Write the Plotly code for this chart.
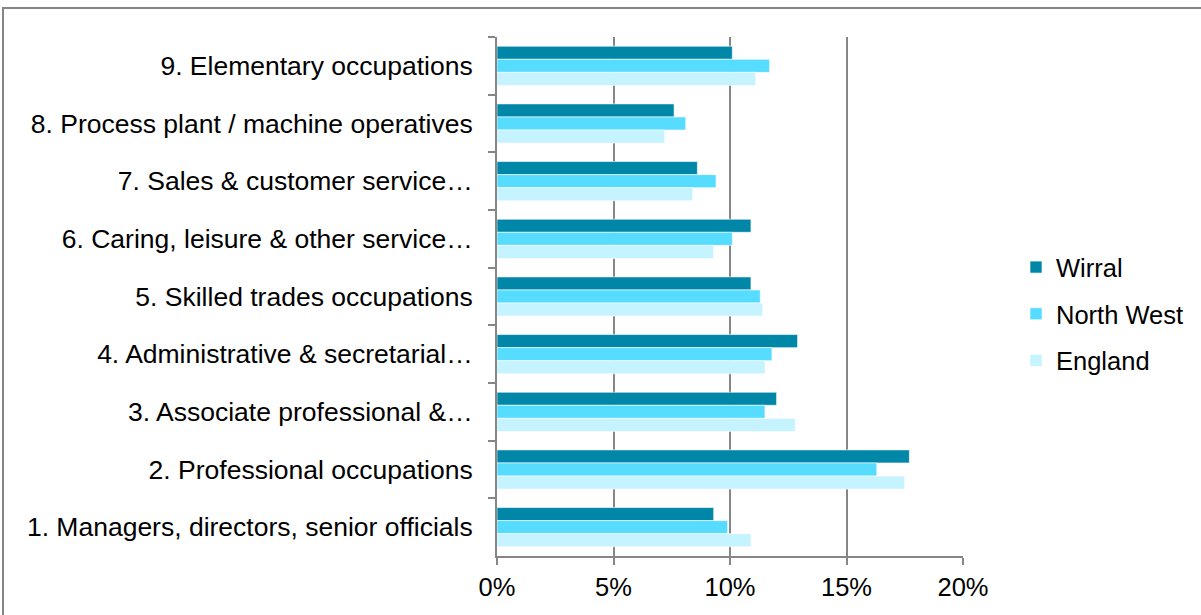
import plotly.graph_objects as go

# Occupation categories, listed top to bottom as drawn
categories = [
    "9. Elementary occupations",
    "8. Process plant / machine operatives",
    "7. Sales & customer service\u2026",
    "6. Caring, leisure & other service\u2026",
    "5. Skilled trades occupations",
    "4. Administrative & secretarial\u2026",
    "3. Associate professional &\u2026",
    "2. Professional occupations",
    "1. Managers, directors, senior officials",
]

# Share of employment (%) per area, same order as categories
wirral = [10.1, 7.6, 8.6, 10.9, 10.9, 12.9, 12.0, 17.7, 9.3]
north_west = [11.7, 8.1, 9.4, 10.1, 11.3, 11.8, 11.5, 16.3, 9.9]
england = [11.1, 7.2, 8.4, 9.3, 11.4, 11.5, 12.8, 17.5, 10.9]

x_ticks = [0, 5, 10, 15, 20]
x_tick_labels = ["0%", "5%", "10%", "15%", "20%"]

series = [
    ("Wirral", wirral, "#0087A8"),
    ("North West", north_west, "#55DCFF"),
    ("England", england, "#C5F3FF"),
]

FONT = "Liberation Sans, Arial, sans-serif"
GREY = "#868686"

fig = go.Figure()
for name, values, color in series:
    fig.add_trace(go.Bar(
        y=categories,
        x=values,
        name=name,
        orientation="h",
        legendgroup=name,
        marker=dict(color=color, line=dict(color="rgba(255,255,255,0.6)", width=1)),
        hoverinfo="x+y+name",
    ))

L, R, T, B = 497, 238, 37, 59
W, H = 1201, 615
pw = W - L - R
ph = H - T - B

fig.update_layout(
    width=W,
    height=H,
    margin=dict(l=L, r=R, t=T, b=B, pad=0, autoexpand=False),
    paper_bgcolor="white",
    plot_bgcolor="white",
    barmode="group",
    bargap=0.32,
    bargroupgap=0,
    font=dict(family=FONT, size=26, color="#000000"),
    showlegend=True,
    legend=dict(
        x=(1016 - L) / pw,
        xanchor="left",
        y=(H - B - 314) / ph,
        yanchor="middle",
        traceorder="grouped",
        tracegroupgap=10.5,
        font=dict(family=FONT, size=25.5, color="#000000"),
        bgcolor="rgba(0,0,0,0)",
        itemwidth=30,
    ),
    xaxis=dict(
        range=[0, 20],
        tickvals=x_ticks,
        ticktext=x_tick_labels,
        showgrid=True,
        gridcolor=GREY,
        gridwidth=2,
        zeroline=False,
        showline=True,
        linecolor=GREY,
        linewidth=2,
        ticks="outside",
        ticklen=7,
        tickwidth=2,
        tickcolor=GREY,
        tickfont=dict(family=FONT, size=25.5, color="#000000"),
        fixedrange=True,
    ),
    yaxis=dict(
        type="category",
        categoryorder="array",
        categoryarray=categories,
        autorange="reversed",
        showgrid=False,
        zeroline=False,
        showline=True,
        linecolor=GREY,
        linewidth=2,
        ticks="outside",
        tickson="boundaries",
        ticklen=7,
        tickwidth=2,
        tickcolor=GREY,
        ticklabelstandoff=17,
        tickfont=dict(family=FONT, size=26.5, color="#000000"),
        fixedrange=True,
    ),
    shapes=[
        dict(
            type="rect",
            xref="paper",
            yref="paper",
            x0=(3 - L) / pw,
            x1=(W + 10 - L) / pw,
            y0=-(B + 10) / ph,
            y1=(H - B - 8) / ph,
            line=dict(color=GREY, width=2),
            fillcolor="rgba(0,0,0,0)",
            layer="below",
        )
    ],
)

fig.write_html("out.html")
